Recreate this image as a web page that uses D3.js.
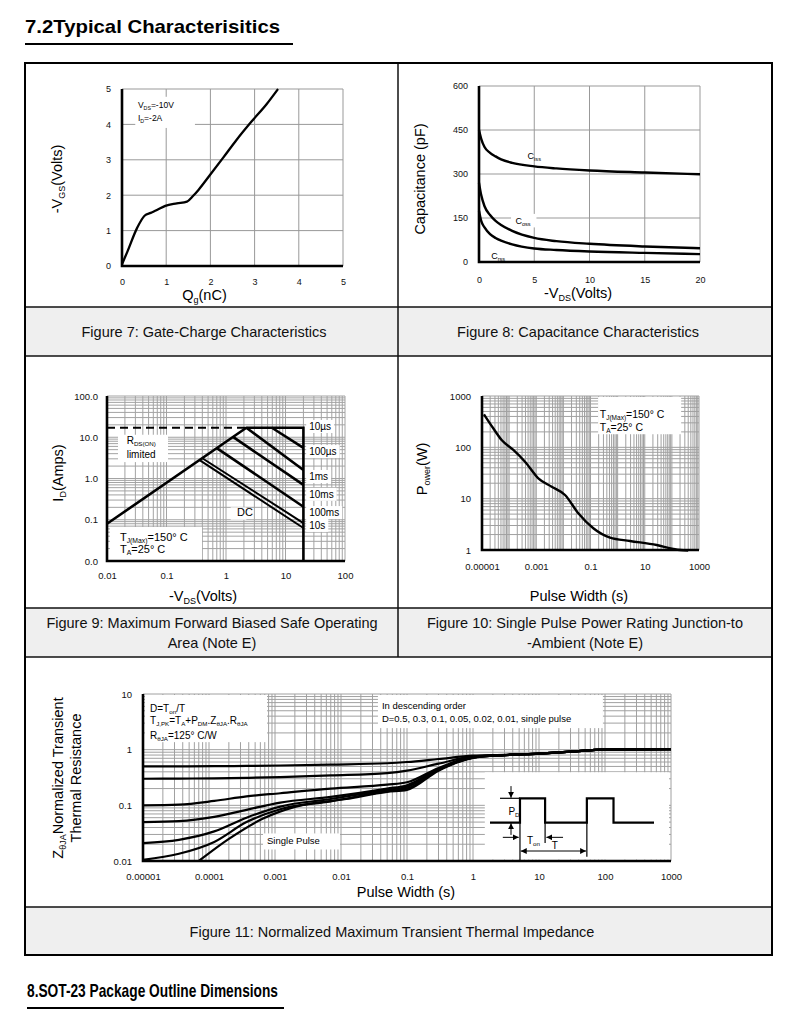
<!DOCTYPE html>
<html>
<head>
<meta charset="utf-8">
<script src="https://cdn.jsdelivr.net/npm/d3@7"></script>
<style>
  body { margin: 0; background: #fff; }
</style>
</head>
<body>
<script>
// ---------------- data ----------------
// Figure 7: gate charge
const qgNc = [0, 0.12, 0.34, 0.51, 0.65, 0.79, 0.98, 1.24, 1.47, 1.6, 1.73, 1.99, 2.29, 2.59, 2.93, 3.27, 3.53];
const vgsV = [0.05, 0.4, 1.07, 1.42, 1.5, 1.58, 1.7, 1.77, 1.82, 1.97, 2.15, 2.57, 3.06, 3.56, 4.08, 4.57, 5];

// Figure 8: capacitance vs -VDS
const vdsCap = [0, 0.2, 0.5, 1, 1.5, 2, 3, 5, 7, 10, 15, 20];
const ciss = [450, 420, 392, 372, 360, 350, 338, 326, 319, 312, 305, 299];
const coss = [270, 228, 190, 160, 140, 126, 106, 82, 71, 62, 53, 47];
const crss = [175, 140, 118, 95, 82, 73, 60, 46, 41, 36, 31, 27];

// Figure 9: safe operating area
const soaEnvelopeV = [0.01, 2.2, 20, 20];
const soaEnvelopeI = [0.08, 17, 17, 0.01];
const rdsLimitV = [0.01, 2.2];
const rdsLimitI = [17, 17];
const pulseLabels = ["10\u00b5s", "100\u00b5s", "1ms", "10ms", "100ms", "10s"];
const pulseStartV = [5.9, 2.2, 1.31, 0.70, 0.40, 0.36];
const pulseStartI = [17, 17, 10.2, 5.45, 3.1, 2.8];
const pulseEndV = [20, 20, 20, 20, 20, 20];
const pulseEndI = [5.5, 1.61, 0.70, 0.207, 0.083, 0.063];
const pulseLabelI = [15, 3.7, 0.92, 0.34, 0.123, 0.06];

// Figure 10: single pulse power
const pulseWidthS = [1.18e-5, 2.6e-5, 5.3e-5, 1.43e-4, 3.85e-4, 1.19e-3, 3.7e-3, 0.0115, 0.0355, 0.127, 0.525, 2.86, 27.5, 112, 200, 400];
const powerW = [440, 235, 139, 88.8, 52.5, 24.9, 17.1, 11.8, 5.19, 2.65, 1.74, 1.5, 1.25, 1.05, 1.0, 0.98];

// Figure 11: normalized transient thermal impedance
const zthX = [1e-5, 3.5e-5, 1.2e-4, 3.7e-4, 1.2e-3, 7e-3, 0.05, 0.1, 0.3, 1, 3, 10, 30, 100, 1000];
const zthD050 = [0.5, 0.5, 0.505, 0.51, 0.52, 0.54, 0.57, 0.6, 0.68, 0.78, 0.81, 0.85, 0.92, 1.0, 1.02];
const zthD030 = [0.3, 0.302, 0.306, 0.312, 0.322, 0.345, 0.38, 0.42, 0.56, 0.76, 0.8, 0.85, 0.92, 1.0, 1.02];
const zthD010 = [0.1, 0.103, 0.12, 0.145, 0.165, 0.2, 0.235, 0.26, 0.47, 0.74, 0.8, 0.85, 0.92, 1.0, 1.02];
const zthD005 = [0.05, 0.052, 0.062, 0.083, 0.112, 0.142, 0.2, 0.23, 0.45, 0.73, 0.8, 0.85, 0.92, 1.0, 1.02];
const zthD002 = [0.021, 0.024, 0.034, 0.06, 0.095, 0.13, 0.19, 0.215, 0.44, 0.72, 0.8, 0.85, 0.92, 1.0, 1.02];
const zthD001 = [0.0105, 0.0135, 0.022, 0.05, 0.085, 0.118, 0.18, 0.2, 0.43, 0.72, 0.8, 0.85, 0.92, 1.0, 1.02];
const singleX = [7e-5, 2e-4, 6.6e-4, 2e-3, 0.012, 0.05, 0.1, 0.3, 1, 3, 10, 30, 100, 1000];
const singleZ = [0.01, 0.025, 0.058, 0.094, 0.13, 0.175, 0.19, 0.42, 0.71, 0.8, 0.85, 0.92, 1.0, 1.02];

// pulse inset: time units / power level
const waveT = [0, 1.17, 1.17, 2.15, 2.15, 3.78, 3.78, 4.82, 4.82, 6.4];
const waveP = [0, 0, 1, 1, 0, 0, 1, 1, 0, 0];

const figureCaptions = [
  ["Figure 7: Gate-Charge Characteristics"],
  ["Figure 8: Capacitance Characteristics"],
  ["Figure 9: Maximum Forward Biased Safe Operating", "Area (Note E)"],
  ["Figure 10: Single Pulse Power Rating Junction-to", "-Ambient (Note E)"],
  ["Figure 11: Normalized Maximum Transient Thermal Impedance"]
];

// ---------------- helpers ----------------
const FONT = '"Liberation Sans", Arial, Helvetica, sans-serif';
const svg = d3.select("body").append("svg")
  .attr("width", 790).attr("height", 1022)
  .style("font-family", FONT);

svg.append("defs").append("marker")
  .attr("id", "arr").attr("viewBox", "0 0 8 8")
  .attr("refX", 8).attr("refY", 4)
  .attr("markerWidth", 6).attr("markerHeight", 6)
  .attr("orient", "auto-start-reverse")
  .append("path").attr("d", "M0,0L8,4L0,8z").attr("fill", "#000");

// parts starting with "_" are subscripts
function rich(parent, x, y, parts, size, anchor) {
  const t = parent.append("text")
    .attr("x", x).attr("y", y)
    .attr("font-size", size)
    .attr("text-anchor", anchor || "start");
  let down = false;
  parts.forEach(p => {
    const sub = p[0] === "_";
    const s = t.append("tspan").text(sub ? p.slice(1) : p);
    if (sub) {
      s.attr("font-size", size * 0.62);
      if (!down) { s.attr("dy", size * 0.2); down = true; }
    } else if (down) {
      s.attr("dy", -size * 0.2); down = false;
    }
  });
  return t;
}

function logGrid(lo, hi) {
  const out = [];
  for (let e = Math.round(Math.log10(lo)); e < Math.round(Math.log10(hi)); e++)
    for (let k = 1; k < 10; k++) out.push(k * Math.pow(10, e));
  out.push(hi);
  return out;
}

const fmtDec = d => d >= 1 ? String(d) : d.toFixed(Math.round(-Math.log10(d)));

function plotFrame(x, y, xGrid, yGrid, color) {
  const g = svg.append("g");
  const [xl, xr] = x.range(), [yb, yt] = y.range();
  g.append("g").selectAll("line").data(xGrid).join("line")
    .attr("x1", d => x(d)).attr("x2", d => x(d))
    .attr("y1", yb).attr("y2", yt)
    .attr("stroke", color).attr("stroke-width", 1);
  g.append("g").selectAll("line").data(yGrid).join("line")
    .attr("y1", d => y(d)).attr("y2", d => y(d))
    .attr("x1", xl).attr("x2", xr)
    .attr("stroke", color).attr("stroke-width", 1);
  return g;
}

function whiteRect(g, x1, y1, x2, y2) {
  g.append("rect")
    .attr("x", Math.min(x1, x2)).attr("y", Math.min(y1, y2))
    .attr("width", Math.abs(x2 - x1)).attr("height", Math.abs(y2 - y1))
    .attr("fill", "#fff");
}

function axes(g, x, y, o) {
  const [xl, xr] = x.range(), [yb, yt] = y.range();
  g.append("g").attr("transform", `translate(0,${yb})`)
    .call(d3.axisBottom(x).tickValues(o.xTicks).tickFormat(o.xFmt).tickSize(0).tickPadding(o.xPad))
    .attr("font-family", null).attr("font-size", o.size)
    .call(a => a.select(".domain").remove())
    .call(a => a.selectAll("text").attr("fill", "#111"));
  g.append("g").attr("transform", `translate(${xl},0)`)
    .call(d3.axisLeft(y).tickValues(o.yTicks).tickFormat(o.yFmt).tickSize(0).tickPadding(o.yPad))
    .attr("font-family", null).attr("font-size", o.size)
    .call(a => a.select(".domain").remove())
    .call(a => a.selectAll("text").attr("fill", "#111"));
  g.append("path")
    .attr("d", `M${xl},${yt}V${yb}H${xr}`)
    .attr("fill", "none").attr("stroke", "#000").attr("stroke-width", 2.6);
}

function curve(g, x, y, xs, ys, w) {
  g.append("path")
    .datum(d3.zip(xs, ys))
    .attr("d", d3.line().x(d => x(d[0])).y(d => y(d[1])).curve(d3.curveMonotoneX))
    .attr("fill", "none").attr("stroke", "#000")
    .attr("stroke-width", w || 2.3).attr("stroke-linejoin", "round");
}

function yTitle(x, y, lines, size) {
  const g = svg.append("g").attr("transform", `translate(${x},${y}) rotate(-90)`);
  lines.forEach((parts, i) => rich(g, 0, i * size * 1.22, parts, size, "middle"));
}

// ---------------- page ----------------
svg.append("text").attr("x", 25).attr("y", 33)
  .attr("font-size", 19).attr("font-weight", "bold")
  .attr("textLength", 255).attr("lengthAdjust", "spacingAndGlyphs")
  .text("7.2Typical Characterisitics");
svg.append("line").attr("x1", 25).attr("x2", 293).attr("y1", 44).attr("y2", 44)
  .attr("stroke", "#000").attr("stroke-width", 2);

const box = { l: 25, r: 772, t: 63, b: 955, mid: 398 };
[[307, 356], [608, 657], [907, 955]].forEach(([a, b]) =>
  svg.append("rect").attr("x", box.l).attr("y", a)
    .attr("width", box.r - box.l).attr("height", b - a).attr("fill", "#efefef"));
[307, 356, 608, 657, 907].forEach(yy =>
  svg.append("line").attr("x1", box.l).attr("x2", box.r).attr("y1", yy).attr("y2", yy)
    .attr("stroke", "#111").attr("stroke-width", 1.5));
svg.append("line").attr("x1", box.mid).attr("x2", box.mid).attr("y1", box.t).attr("y2", 657)
  .attr("stroke", "#111").attr("stroke-width", 1.5);
svg.append("rect").attr("x", box.l).attr("y", box.t)
  .attr("width", box.r - box.l).attr("height", box.b - box.t)
  .attr("fill", "none").attr("stroke", "#000").attr("stroke-width", 2);

const capPos = [[204, [337]], [578, [337]], [212, [628, 648]], [585, [628, 648]], [392, [937]]];
figureCaptions.forEach((lines, i) => {
  lines.forEach((s, j) => svg.append("text")
    .attr("x", capPos[i][0]).attr("y", capPos[i][1][j])
    .attr("text-anchor", "middle").attr("font-size", 14.5).attr("fill", "#111")
    .text(s));
});

svg.append("text").attr("x", 27).attr("y", 997)
  .attr("font-size", 19).attr("font-weight", "bold")
  .attr("font-family", '"Liberation Sans Narrow", "Liberation Sans", Arial, sans-serif')
  .attr("textLength", 251).attr("lengthAdjust", "spacingAndGlyphs")
  .text("8.SOT-23 Package Outline Dimensions");
svg.append("line").attr("x1", 27).attr("x2", 284).attr("y1", 1008).attr("y2", 1008)
  .attr("stroke", "#000").attr("stroke-width", 2);

// ---------------- Figure 7 ----------------
{
  const x = d3.scaleLinear().domain([0, 5]).range([122, 343]);
  const y = d3.scaleLinear().domain([0, 5]).range([266, 89]);
  const g = plotFrame(x, y, [1, 2, 3, 4, 5], [1, 2, 3, 4, 5], "#999");
  whiteRect(g, x(0.3), y(4.78), x(1.65), y(3.9));
  curve(g, x, y, qgNc, vgsV, 2.3);
  axes(g, x, y, { xTicks: [0, 1, 2, 3, 4, 5], yTicks: [0, 1, 2, 3, 4, 5], xFmt: d3.format("d"), yFmt: d3.format("d"), xPad: 12.5, yPad: 11, size: 9 });
  rich(g, x(0.36), y(4.46), ["V", "_DS", "=-10V"], 8.5);
  rich(g, x(0.36), y(4.1), ["I", "_D", "=-2A"], 8.5);
  rich(svg, 204.5, 300, ["Q", "_g", "(nC)"], 14.5, "middle");
  yTitle(62, 179, [["-V", "_GS", "(Volts)"]], 14.5);
}

// ---------------- Figure 8 ----------------
{
  const x = d3.scaleLinear().domain([0, 20]).range([479, 700]);
  const y = d3.scaleLinear().domain([0, 600]).range([262, 86]);
  const g = plotFrame(x, y, [5, 10, 15, 20], [150, 300, 450, 600], "#999");
  whiteRect(g, x(2.9), y(164), x(5.2), y(118));
  curve(g, x, y, vdsCap, ciss, 2.4);
  curve(g, x, y, vdsCap, coss, 2.4);
  curve(g, x, y, vdsCap, crss, 2.4);
  axes(g, x, y, { xTicks: [0, 5, 10, 15, 20], yTicks: [0, 150, 300, 450, 600], xFmt: d3.format("d"), yFmt: d3.format("d"), xPad: 14.5, yPad: 11, size: 9 });
  rich(g, x(4.4), y(352), ["C", "_iss"], 9);
  rich(g, x(3.3), y(128), ["C", "_oss"], 9);
  rich(g, x(1.1), y(9), ["C", "_rss"], 9);
  rich(svg, 578, 298, ["-V", "_DS", "(Volts)"], 14.5, "middle");
  yTitle(425, 179, [["Capacitance (pF)"]], 14.5);
}

// ---------------- Figure 9 ----------------
{
  const x = d3.scaleLog().domain([0.01, 100]).range([107, 345]);
  const y = d3.scaleLog().domain([0.01, 100]).range([561, 396]);
  const g = plotFrame(x, y, logGrid(0.01, 100), logGrid(0.01, 100), "#a3a3a3");
  whiteRect(g, x(0.0153), y(11.5), x(0.106), y(2.5));
  whiteRect(g, x(0.0112), y(0.0667), x(0.395), y(0.0101));
  whiteRect(g, x(1.2), y(0.2), x(2.2), y(0.1));
  const boxes = g.append("g");
  const line = d3.line().x(d => x(d[0])).y(d => y(d[1]));
  const thick = sel => sel.attr("fill", "none").attr("stroke", "#000").attr("stroke-width", 2.6);
  g.append("path").datum(d3.zip(rdsLimitV, rdsLimitI)).attr("d", line).call(thick)
    .attr("stroke-width", 2).attr("stroke-dasharray", "8,5");
  g.append("path").datum(d3.zip(soaEnvelopeV, soaEnvelopeI)).attr("d", line).call(thick)
    .attr("stroke-linejoin", "miter");
  pulseLabels.forEach((_, i) => {
    g.append("path")
      .datum([[pulseStartV[i], pulseStartI[i]], [pulseEndV[i], pulseEndI[i]]])
      .attr("d", line).call(thick).attr("stroke-width", i > 3 ? 2 : 2.6);
  });
  axes(g, x, y, { xTicks: [0.01, 0.1, 1, 10, 100], yTicks: [0.01, 0.1, 1, 10, 100], xFmt: fmtDec, yFmt: d3.format(".1f"), xPad: 11, yPad: 9, size: 9.5 });
  pulseLabels.forEach((s, i) => {
    const t = g.append("text").attr("x", x(25)).attr("y", y(pulseLabelI[i]))
      .attr("font-size", 10).text(s);
    const b = t.node().getBBox();
    boxes.append("rect").attr("x", b.x - 3).attr("y", b.y - 1)
      .attr("width", b.width + 6).attr("height", b.height + 2).attr("fill", "#fff");
  });
  rich(g, x(0.0214), y(6.8), ["R", "_DS(ON)"], 10);
  rich(g, x(0.0214), y(3.1), ["limited"], 10);
  rich(g, x(1.53), y(0.123), ["DC"], 11);
  rich(g, x(0.0165), y(0.0305), ["T", "_J(Max)", "=150\u00b0 C"], 11);
  rich(g, x(0.0165), y(0.0156), ["T", "_A", "=25\u00b0 C"], 11);
  rich(svg, 203, 601, ["-V", "_DS", "(Volts)"], 14.5, "middle");
  yTitle(63, 473, [["I", "_D", "(Amps)"]], 14.5);
}

// ---------------- Figure 10 ----------------
{
  const x = d3.scaleLog().domain([1e-5, 1000]).range([482, 699]);
  const y = d3.scaleLog().domain([1, 1000]).range([550, 396]);
  const g = plotFrame(x, y, logGrid(1e-5, 1000), logGrid(1, 1000), "#a0a0a0");
  whiteRect(g, x(0.19), y(960), x(220), y(180));
  curve(g, x, y, pulseWidthS, powerW, 2.4);
  axes(g, x, y, { xTicks: [1e-5, 1e-3, 0.1, 10, 1000], yTicks: [1, 10, 100, 1000], xFmt: fmtDec, yFmt: d3.format("d"), xPad: 13, yPad: 11, size: 9.5 });
  rich(g, x(0.22), y(373), ["T", "_J(Max)", "=150\u00b0 C"], 10.5);
  rich(g, x(0.22), y(208), ["T", "_A", "=25\u00b0 C"], 10.5);
  rich(svg, 579, 601, ["Pulse Width (s)"], 14.5, "middle");
  yTitle(427, 469, [["P", "_ower", "(W)"]], 14.5);
}

// ---------------- Figure 11 ----------------
{
  const x = d3.scaleLog().domain([1e-5, 1000]).range([143, 671]);
  const y = d3.scaleLog().domain([0.01, 10]).range([861, 694]);
  const g = plotFrame(x, y, logGrid(1e-5, 1000), logGrid(0.01, 10), "#a0a0a0");
  whiteRect(g, x(1.07e-5), y(9.6), x(7.57e-4), y(1.365));
  whiteRect(g, x(0.0363), y(9.6), x(93), y(2.44));
  whiteRect(g, x(6.58e-4), y(0.0313), x(9.66e-3), y(0.0161));
  whiteRect(g, x(1.51), y(0.393), x(933), y(0.0106));
  [zthD050, zthD030, zthD010, zthD005, zthD002, zthD001].forEach(s => curve(g, x, y, zthX, s, 2.2));
  curve(g, x, y, singleX, singleZ, 2.2);
  axes(g, x, y, { xTicks: [1e-5, 1e-4, 1e-3, 0.01, 0.1, 1, 10, 100, 1000], yTicks: [0.01, 0.1, 1, 10], xFmt: fmtDec, yFmt: fmtDec, xPad: 12.3, yPad: 11, size: 9.5 });
  rich(g, x(1.28e-5), y(4.74), ["D=T", "_on", "/T"], 10);
  rich(g, x(1.28e-5), y(2.88), ["T", "_J,PK", "=T", "_A", "+P", "_DM", ".Z", "_\u03b8JA", ".R", "_\u03b8JA"], 10);
  rich(g, x(1.28e-5), y(1.55), ["R", "_\u03b8JA", "=125\u00b0 C/W"], 10);
  rich(g, x(0.0417), y(5.37), ["In descending order"], 9.5);
  rich(g, x(0.0417), y(3.13), ["D=0.5, 0.3, 0.1, 0.05, 0.02, 0.01, single pulse"], 9.5);
  rich(g, x(7.57e-4), y(0.0198), ["Single Pulse"], 9.5);

  // duty-cycle waveform inset
  const t = d3.scaleLinear().domain([0, 6.4]).range([490, 654]);
  const p = d3.scaleLinear().domain([0, 1]).range([822.7, 798.3]);
  const ink = sel => sel.attr("fill", "none").attr("stroke", "#000");
  const seg = (t1, p1, t2, p2) => g.append("line")
    .attr("x1", t(t1)).attr("y1", p(p1)).attr("x2", t(t2)).attr("y2", p(p2)).call(ink);
  g.append("path").datum(d3.zip(waveT, waveP))
    .attr("d", d3.line().x(d => t(d[0])).y(d => p(d[1]))).call(ink).attr("stroke-width", 2.2);
  seg(0.39, 1, 1.17, 1).attr("stroke-width", 1.2);
  seg(0.82, 1.5, 0.82, 1.02).attr("marker-end", "url(#arr)");
  seg(0.82, -0.5, 0.82, -0.02).attr("marker-end", "url(#arr)");
  seg(0.5, -0.6, 1.12, -0.6).attr("marker-end", "url(#arr)");
  seg(2.85, -0.6, 2.2, -0.6).attr("marker-end", "url(#arr)");
  seg(1.17, 0, 1.17, -1.6).attr("stroke-width", 1.2);
  seg(2.15, 0, 2.15, -0.83).attr("stroke-width", 1.2);
  seg(3.78, 0, 3.78, -1.4).attr("stroke-width", 1.2);
  seg(1.2, -1.16, 3.75, -1.16).attr("marker-start", "url(#arr)").attr("marker-end", "url(#arr)");
  rich(g, t(0.72), p(0.32), ["P", "_D"], 10);
  rich(g, t(1.44), p(-0.87), ["T", "_on"], 10);
  rich(g, t(2.41), p(-1.08), ["T"], 10);

  rich(svg, 406, 897, ["Pulse Width (s)"], 14.5, "middle");
  yTitle(63, 778, [["Z", "_\u03b8JA", "Normalized Transient"], ["Thermal Resistance"]], 14.5);
}
</script>
</body>
</html>
